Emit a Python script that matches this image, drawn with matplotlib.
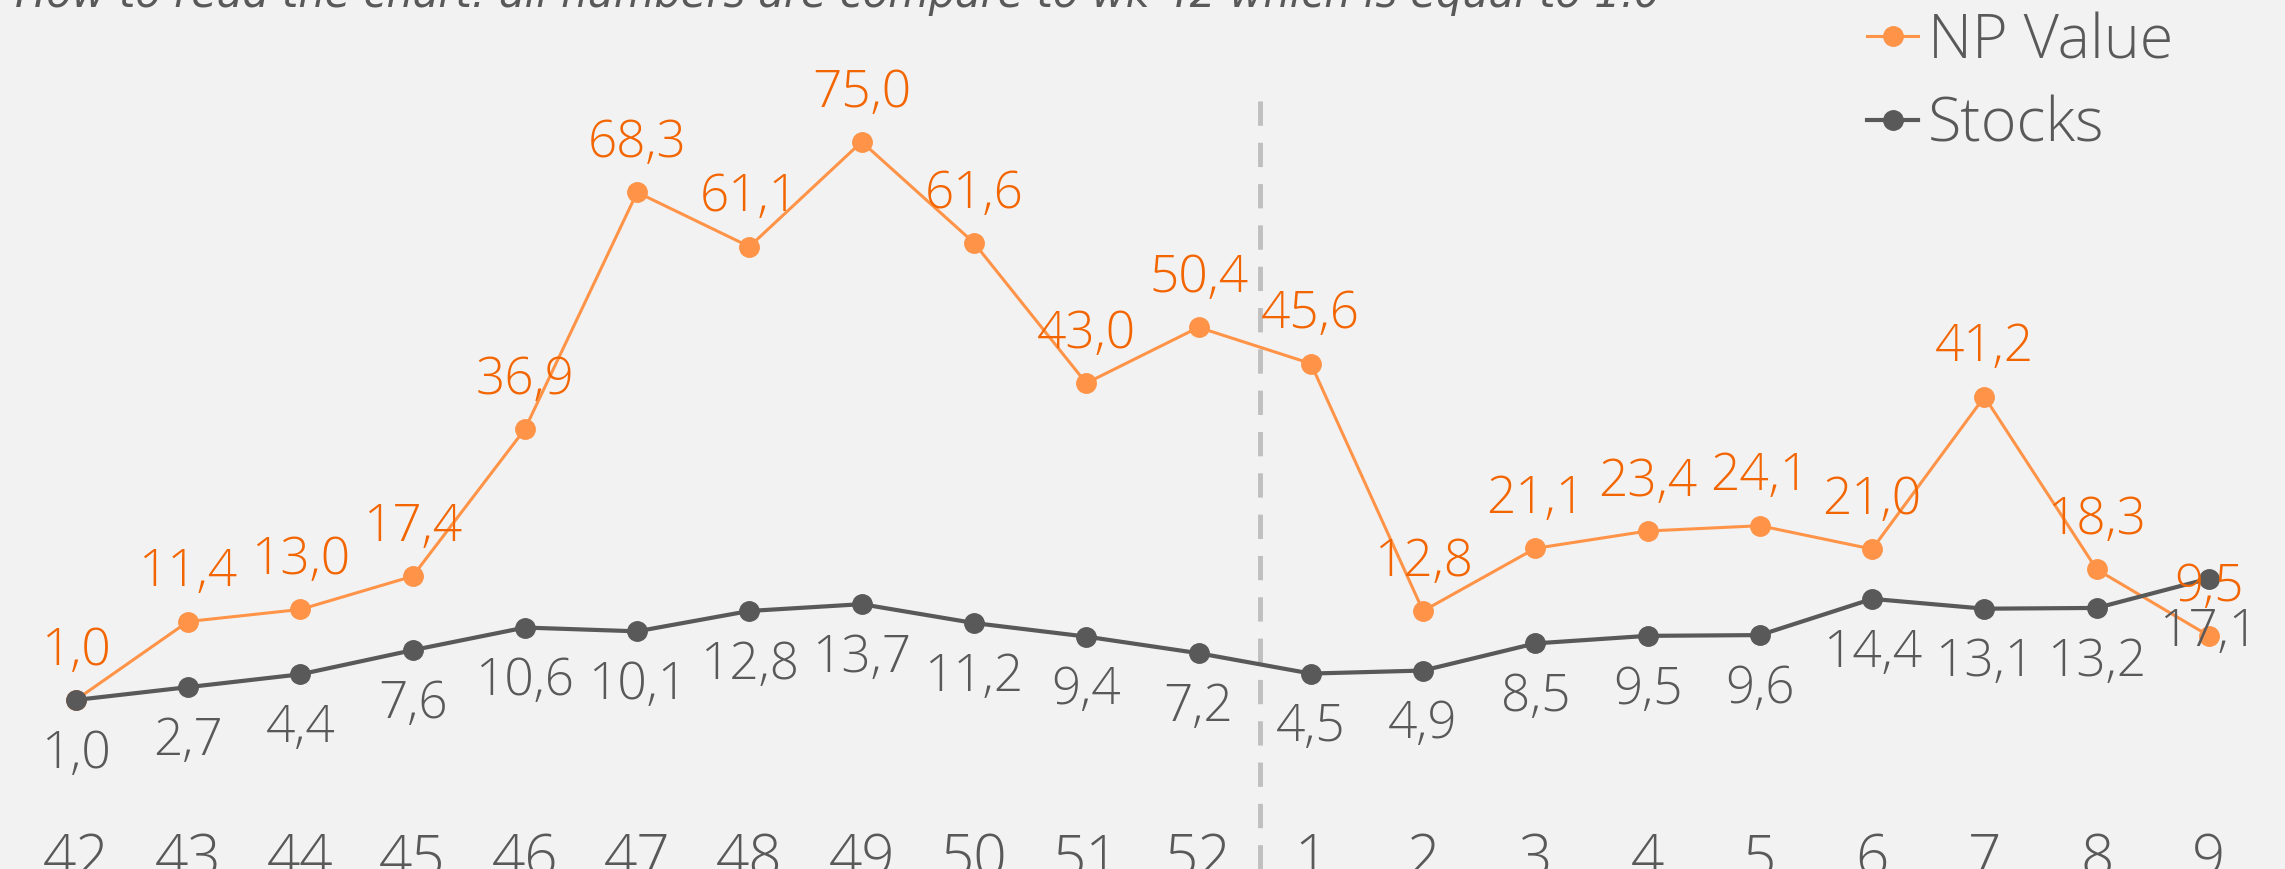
import matplotlib
matplotlib.use("Agg")
import matplotlib.pyplot as plt
from matplotlib.lines import Line2D

weeks = ["42", "43", "44", "45", "46", "47", "48", "49", "50", "51", "52",
         "1", "2", "3", "4", "5", "6", "7", "8", "9"]
np_value = [1.0, 11.4, 13.0, 17.4, 36.9, 68.3, 61.1, 75.0, 61.6, 43.0, 50.4,
            45.6, 12.8, 21.1, 23.4, 24.1, 21.0, 41.2, 18.3, 9.5]
stocks = [1.0, 2.7, 4.4, 7.6, 10.6, 10.1, 12.8, 13.7, 11.2, 9.4, 7.2,
          4.5, 4.9, 8.5, 9.5, 9.6, 14.4, 13.1, 13.2, 17.1]
year_break = 10.55  # between wk 52 and wk 1

bg = "#F2F2F2"
orange = "#FF9448"
orange_txt = "#F26500"
grey = "#595959"
font = "Open Sans"

fig = plt.figure(figsize=(22.85, 8.7), dpi=100, facecolor=bg)
ax = fig.add_axes([0, 0, 1, 1], facecolor=bg)

x = list(range(len(weeks)))
ax.plot(x, np_value, color=orange, lw=2.2, marker="o", ms=14, label="NP Value", zorder=3)
ax.plot(x, stocks, color=grey, lw=3, marker="o", ms=14, label="Stocks", zorder=3)

ax.axvline(year_break, ymin=0, ymax=1 - 99 / 870, color="#BFBFBF", lw=3.5,
           dashes=(5, 3.5), zorder=1)

# data labels
for xi, v in zip(x, np_value):
    ax.annotate(f"{v:.1f}".replace(".", ","), (xi, v), xytext=(0, 50),
                textcoords="offset pixels", ha="center", va="center",
                color=orange_txt, fontsize=37, family=font, fontweight="light", zorder=4)
for xi, v in zip(x, stocks):
    ax.annotate(f"{v:.1f}".replace(".", ","), (xi, v), xytext=(0, -53),
                textcoords="offset pixels", ha="center", va="center",
                color=grey, fontsize=37, family=font, fontweight="light", zorder=4)

ax.set_xlim(-0.675, 19.677)
ax.set_ylim(-21.41, 93.93)

ax.set_xticks(x, weeks)
ax.tick_params(axis="x", length=0, pad=-28, labelsize=42, labelcolor=grey)
for lab in ax.get_xticklabels():
    lab.set_family(font)
    lab.set_fontweight("light")
ax.set_yticks([])
for s in ax.spines.values():
    s.set_visible(False)

handles = [Line2D([], [], color=orange, lw=2.2, marker="o", ms=14),
           Line2D([], [], color=grey, lw=3, marker="o", ms=14)]
leg = fig.legend(handles, ["NP Value", "Stocks"], loc="upper left",
                 bbox_to_anchor=(1867 / 2285, 1 - 12 / 870), frameon=False,
                 handlelength=0.84, handletextpad=0.15, labelspacing=0.36,
                 borderpad=0, borderaxespad=0,
                 prop={"family": font, "size": 44, "weight": "light"})
for t in leg.get_texts():
    t.set_color(grey)

fig.text(15 / 2285, 1 - 7 / 870,
         "How to read the chart: all numbers are compare to wk 42 which is equal to 1.0",
         ha="left", va="baseline", fontsize=30, style="italic", color=grey,
         family="Liberation Sans Narrow")

fig.savefig("out.png", dpi=100, facecolor=bg)
